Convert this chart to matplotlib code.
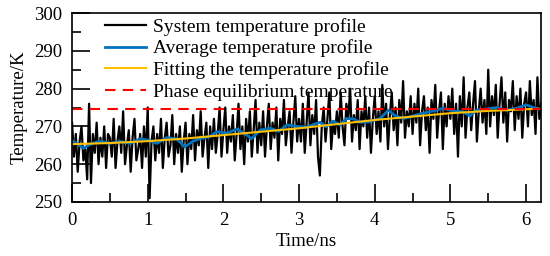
import numpy as np
import matplotlib
matplotlib.use("Agg")
import matplotlib.pyplot as plt
from matplotlib.ticker import MultipleLocator

# system temperature, sampled every 0.025 ns from 0 to 6.2 ns
system_T = [
    271, 262, 268, 258, 266, 270, 261, 264, 256, 276, 255, 268, 263, 271, 260, 267, 262, 270, 259, 268,
    267, 262, 272, 259, 266, 270, 263, 274, 260, 265, 269, 258, 267, 272, 261, 264, 268, 259, 270, 262,
    275, 251, 266, 270, 261, 268, 263, 272, 259, 267, 271, 262, 265, 273, 260, 268, 263, 270, 258, 266,
    271, 260, 268, 264, 273, 261, 269, 265, 274, 262, 267, 271, 259, 270, 264, 272, 263, 268, 275, 262,
    269, 275, 263, 270, 266, 273, 261, 268, 276, 264, 270, 260, 272, 266, 274, 262, 269, 277, 263, 271,
    265, 274, 262, 270, 276, 264, 271, 267, 275, 261, 272, 268, 277, 265, 270, 274, 263, 271, 278, 266,
    272, 266, 276, 263, 271, 279, 265, 273, 268, 277, 262, 257, 270, 275, 266, 272, 279, 264, 271, 268,
    274, 267, 279, 270, 265, 276, 272, 280, 266, 273, 269, 277, 264, 274, 270, 278, 267, 275, 263, 272,
    278, 268, 274, 266, 281, 270, 276, 264, 273, 279, 269, 275, 265, 277, 271, 282, 267, 274, 270, 278,
    268, 276, 271, 280, 265, 274, 278, 269, 275, 263, 277, 272, 281, 267, 274, 279, 264, 276, 270, 278,
    272, 280, 268, 276, 262, 278, 270, 283, 267, 275, 279, 269, 276, 282, 266, 274, 280, 271, 277, 268,
    285, 270, 278, 273, 281, 267, 276, 283, 271, 279, 266, 277, 274, 282, 269, 278, 272, 280, 267, 276,
    279, 270, 282, 273, 277, 268, 283, 272, 276,
]
system_t = np.linspace(0, 6.2, len(system_T))

# running average
avg_t = [0.02, 0.15, 0.24, 0.37, 0.5, 0.64, 0.77, 0.9, 1.0, 1.12, 1.25, 1.38, 1.49, 1.6, 1.7,
         1.82, 1.91, 2.04, 2.18, 2.31, 2.37, 2.49, 2.62, 2.73, 2.84, 2.97, 3.1, 3.2, 3.28, 3.36,
         3.45, 3.54, 3.63, 3.72, 3.8, 3.93, 4.07, 4.18, 4.27, 4.38, 4.51, 4.64, 4.78, 4.9, 5.03,
         5.16, 5.26, 5.34, 5.47, 5.61, 5.74, 5.87, 6.0, 6.1, 6.16]
avg_T = [266.1, 264.2, 265.3, 266.1, 265.5, 266.0, 265.5, 266.7, 266.4, 265.5, 267.0, 266.7, 264.6,
         266.1, 266.8, 267.3, 268.6, 268.2, 269.3, 267.7, 266.7, 269.1, 269.5, 268.7, 270.4, 270.0,
         269.8, 270.6, 271.1, 269.9, 271.4, 270.4, 272.1, 272.0, 271.1, 271.2, 272.1, 274.3, 272.8,
         272.1, 272.8, 273.5, 274.1, 274.8, 274.1, 273.9, 272.8, 274.3, 274.6, 275.0, 274.3, 274.8,
         275.7, 275.0, 274.6]

# fitted profile
fit_t = [0, 0.5, 1.0, 1.5, 2.0, 2.5, 3.0, 3.5, 4.0, 4.5, 5.0, 5.5, 6.2]
fit_T = [265.3, 265.6, 266.1, 266.8, 267.7, 268.6, 269.5, 270.6, 271.7, 272.6, 273.5, 274.1, 274.7]

phase_T = 274.6

plt.rcParams['font.family'] = ['Liberation Serif', 'DejaVu Serif']
plt.rcParams['font.size'] = 13.5

fig = plt.figure(figsize=(5.5, 2.56), dpi=100)
ax = fig.add_axes([0.131, 0.211, 0.853, 0.738])

ax.plot(system_t, system_T, color='black', lw=1.6, label='System temperature profile')
ax.plot(avg_t, avg_T, color='#0072BD', lw=2.0, label='Average temperature profile')
ax.plot(fit_t, fit_T, color='#FFC000', lw=1.5, label='Fitting the temperature profile')
ax.axhline(phase_T, color='#FF0000', lw=1.5, ls=(0, (5, 3.5)), label='Phase equilibrium temperature')

ax.set_xlim(0, 6.2)
ax.set_ylim(250, 300)
ax.xaxis.set_major_locator(MultipleLocator(1))
ax.xaxis.set_minor_locator(MultipleLocator(0.5))
ax.yaxis.set_major_locator(MultipleLocator(10))
ax.yaxis.set_minor_locator(MultipleLocator(5))
ax.tick_params(which='both', direction='in', top=False, right=False, width=1.2)
ax.tick_params(which='major', length=13, pad=7)
ax.tick_params(which='minor', length=6.5)
for s in ax.spines.values():
    s.set_linewidth(1.2)

ax.set_xlabel('Time/ns', labelpad=3)
ax.set_ylabel('Temperature/K', labelpad=5)

ax.legend(loc='upper left', bbox_to_anchor=(0.07, 0.975), frameon=False,
          borderaxespad=0, borderpad=0, handlelength=2.1, handletextpad=0.35,
          labelspacing=0.2, fontsize=14)

fig.savefig('out.png', dpi=100)
